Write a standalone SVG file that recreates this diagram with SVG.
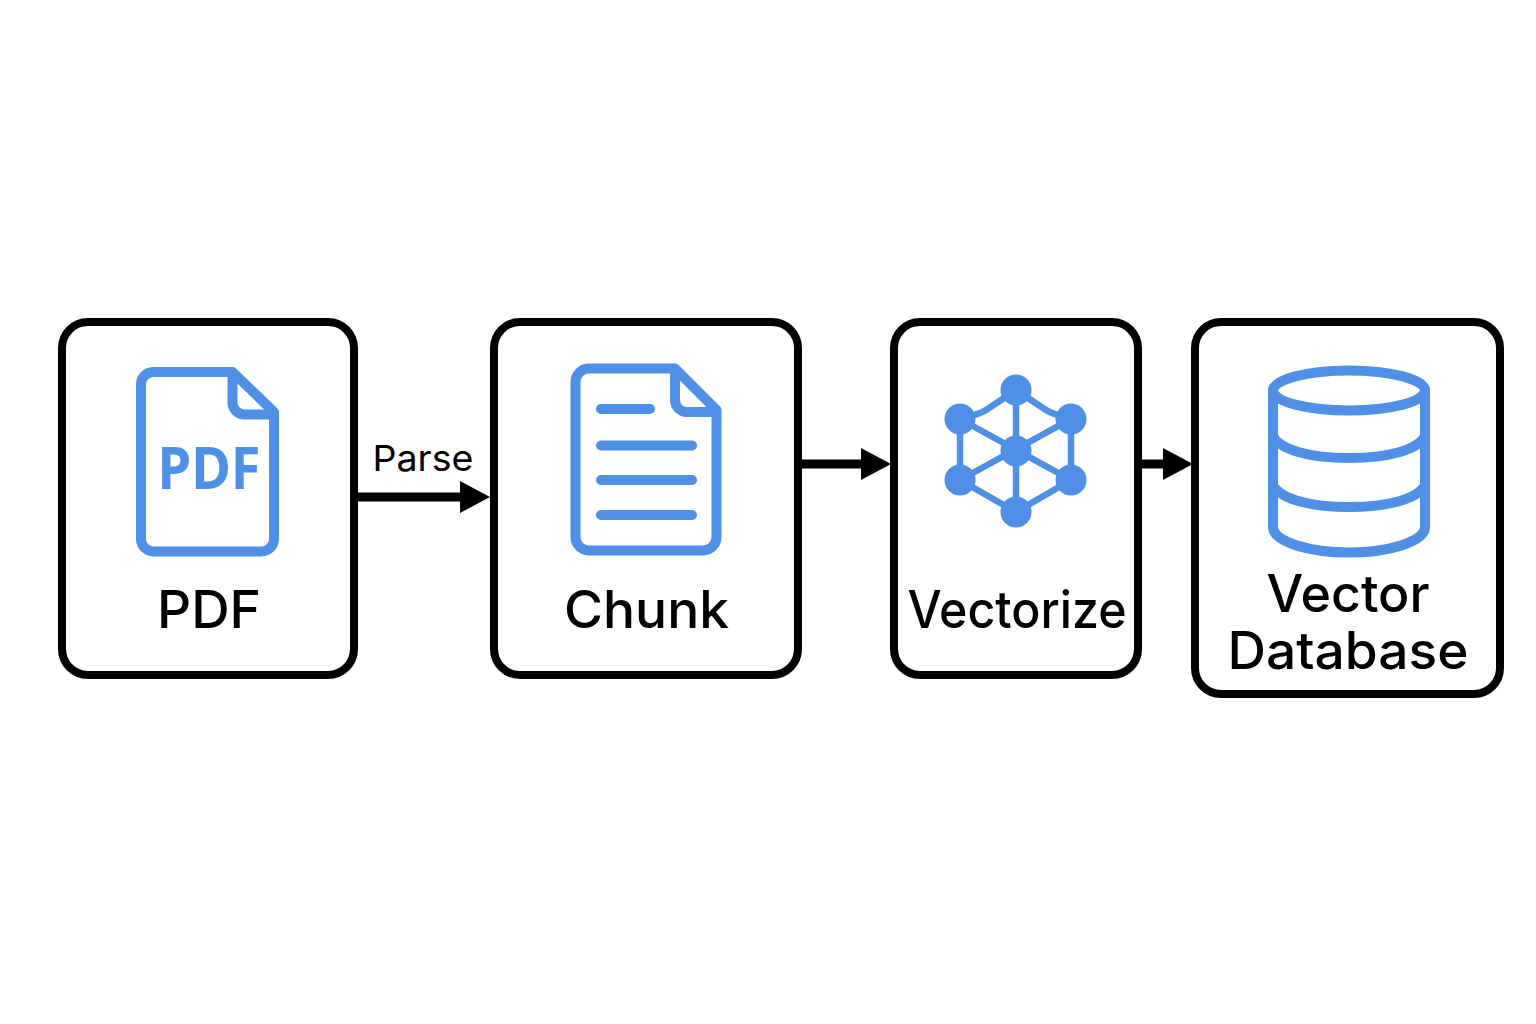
<svg xmlns="http://www.w3.org/2000/svg" width="1536" height="1024" viewBox="0 0 1536 1024">
<style>
.box{fill:#fff;stroke:#000;stroke-width:8}
.ic{fill:none;stroke:#4f8fe6;stroke-width:10;stroke-linejoin:round;stroke-linecap:round}
.edge{fill:none;stroke:#4f8fe6;stroke-width:6.500;stroke-linecap:round;stroke-linejoin:round}
.dot{fill:#4f8fe6}
.lab{font-family:"Inter","Liberation Sans",sans-serif;font-weight:500;fill:#000;text-anchor:middle;font-size:52px}
.conn{fill:none;stroke:#000;stroke-width:9}
</style>
<defs>
<marker id="ah" markerUnits="userSpaceOnUse" markerWidth="31" markerHeight="32" refX="1" refY="16" orient="auto"><path d="M0 0L30 16L0 32Z" fill="#000"/></marker>
</defs>
<rect width="1536" height="1024" fill="#fff"/>
<g id="connectors">
<path class="conn" d="M357 497H461" marker-end="url(#ah)"/>
<path class="conn" d="M801 464H862" marker-end="url(#ah)"/>
<path class="conn" d="M1141 464H1164" marker-end="url(#ah)"/>
<text x="423" y="471" font-family="Inter,'Liberation Sans',sans-serif" font-size="36" text-anchor="middle" textLength="101" lengthAdjust="spacingAndGlyphs">Parse</text>
</g>
<g id="node-pdf">
<rect class="box" x="62" y="322" width="292" height="353" rx="26"/>
<path class="ic" d="M232 372H153A12.500 12.500 0 0 0 141 384.500V539A12.500 12.500 0 0 0 153.500 551.500H261.500A12.500 12.500 0 0 0 274 539V412L232.500 372V402A12 12 0 0 0 244.500 414.500H274"/>
<text x="209" y="489" font-family="'Noto Sans','Open Sans',sans-serif" font-weight="700" font-size="59" fill="#4f8fe6" text-anchor="middle" textLength="103" lengthAdjust="spacingAndGlyphs">PDF</text>
<text class="lab" x="209" y="628" textLength="104" lengthAdjust="spacingAndGlyphs">PDF</text>
</g>
<g id="node-chunk">
<rect class="box" x="494" y="322" width="304" height="353" rx="26"/>
<path class="ic" d="M675 368.500H589A13.500 13.500 0 0 0 575.500 382V537A13.500 13.500 0 0 0 589 550.500H703A13.500 13.500 0 0 0 716.500 537V410L675 368.500V400A12 12 0 0 0 687 412H716.500"/>
<path class="ic" d="M601 409H650M601 445.500H692M601 480H692M601 515H692"/>
<text class="lab" x="646.500" y="628" textLength="165" lengthAdjust="spacingAndGlyphs">Chunk</text>
</g>
<g id="node-vectorize">
<rect class="box" x="894" y="322" width="244" height="353" rx="26"/>
<path class="edge" d="M1016 390L986 410Q980 414 960 419M1016 390L1046 410Q1052 414 1071 419M1016 390V512M960 419V480M1071 419V480M960 419L1071 480M1071 419L960 480M960 480L1016 512L1071 480"/>
<circle class="dot" cx="1016" cy="390" r="15.500"/>
<circle class="dot" cx="960" cy="419" r="15.500"/>
<circle class="dot" cx="1071" cy="419" r="15.500"/>
<circle class="dot" cx="1016" cy="451" r="15.500"/>
<circle class="dot" cx="960" cy="480" r="15.500"/>
<circle class="dot" cx="1071" cy="480" r="15.500"/>
<circle class="dot" cx="1016" cy="512" r="15.500"/>
<text class="lab" x="1017" y="628" textLength="219" lengthAdjust="spacingAndGlyphs">Vectorize</text>
</g>
<g id="node-vector-database">
<rect class="box" x="1195" y="322" width="305" height="372" rx="26"/>
<ellipse class="ic" cx="1349" cy="390.500" rx="76" ry="20"/>
<path class="ic" d="M1273 390.500V527C1273 542 1310 552.500 1349 552.500S1425 542 1425 527V390.500M1273 436C1280 450 1310 458 1349 458S1418 450 1425 436M1273 485C1280 499 1310 507 1349 507S1418 499 1425 485"/>
<text class="lab" x="1348" y="612" textLength="163" lengthAdjust="spacingAndGlyphs">Vector</text>
<text class="lab" x="1348" y="669" textLength="241" lengthAdjust="spacingAndGlyphs">Database</text>
</g>
</svg>
